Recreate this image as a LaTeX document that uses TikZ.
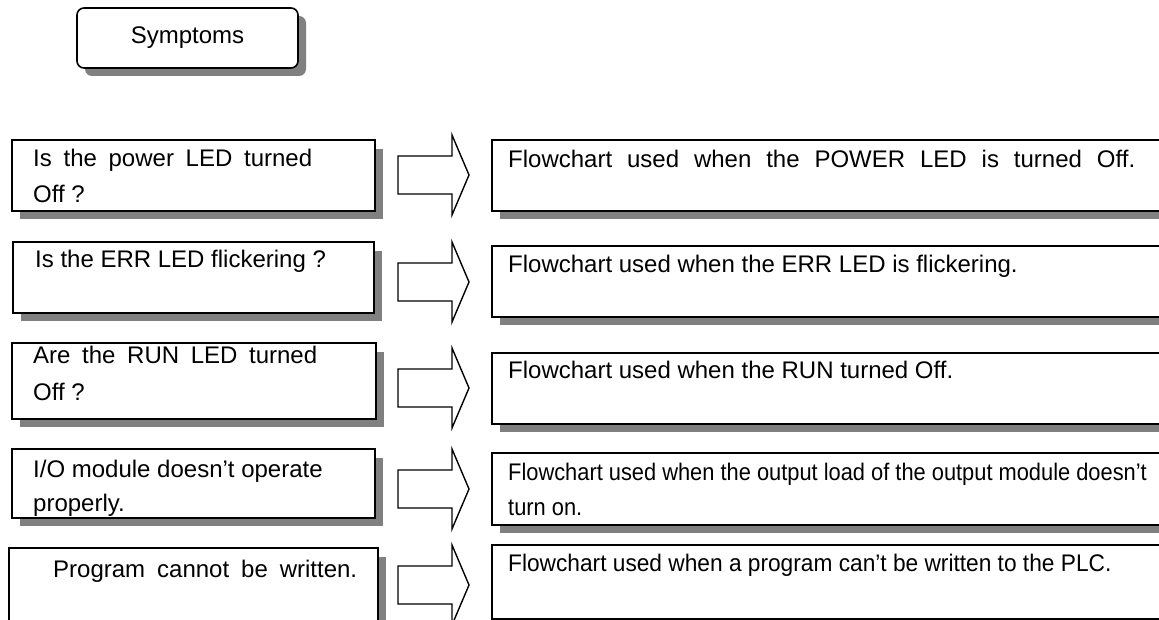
\documentclass[tikz,border=0pt]{standalone}
\usepackage{fontspec}
\setmainfont{Liberation Sans}
\usepackage{graphicx}
\begin{document}
\begin{tikzpicture}[x=1pt,y=-1pt,
  shadowfill/.style={fill=black!50, draw=none},
  boxframe/.style={fill=white, draw=black, line width=1.6pt},
  blockarrow/.style={fill=white, draw=black, line width=1.4pt, line join=miter},
  txt/.style={anchor=base west, inner sep=0pt, font=\fontsize{24}{28}\selectfont}]
\useasboundingbox (0,0) rectangle (1159,620);
\clip (0,0) rectangle (1159,620);

% Symptoms
\fill[shadowfill, rounded corners=7pt] (85,16) rectangle (306,76);
\draw[boxframe, rounded corners=7pt] (77,8) rectangle (298,68);
\node[inner sep=0pt, font=\fontsize{24}{28}\selectfont] (sym) at (187.5,38) {Symptoms};

% left boxes
\foreach \xa/\ya/\xb/\yb in {12/140/375/211, 13/242/374/313, 12/343/376/419, 12/449/375/518, 9/548/378/630}{
  \fill[shadowfill] (\xa+8,\ya+9) rectangle (\xb+8,\yb+8);
  \draw[boxframe] (\xa,\ya) rectangle (\xb,\yb);
}
% right boxes
\foreach \ya/\yb in {140/211, 246/317, 353/424, 453/525, 545/619}{
  \fill[shadowfill] (500,\ya+9) rectangle (1170,\yb+8);
  \draw[boxframe] (492,\ya) rectangle (1175,\yb);
}
% block arrows
\foreach \c in {175, 282, 388, 489, 585}{
  \draw[blockarrow] (398,\c-19) -- (452,\c-19) -- (452,\c-40) -- (469,\c) -- (452,\c+40) -- (452,\c+19) -- (398,\c+19) -- cycle;
}

% left texts
\node[txt] (l1a) at (33,167) {\makebox[279pt][s]{Is the power LED turned}};
\node[txt] (l1b) at (33,203) {Off ?};
\node[txt] (l2) at (35,268) {Is the ERR LED flickering ?};
\node[txt] (l3a) at (33,363) {\makebox[284pt][s]{Are the RUN LED turned}};
\node[txt] (l3b) at (33,400) {Off ?};
\node[txt] (l4a) at (33,477) {I/O module doesn’t operate};
\node[txt] (l4b) at (33,511) {properly.};
\node[txt] (l5) at (53,577) {\makebox[304pt][s]{Program cannot be written.}};

% right texts
\node[txt] (r1) at (508,168) {\makebox[627pt][s]{Flowchart used when the POWER LED is turned Off.}};
\node[txt] (r2) at (508,273) {Flowchart used when the ERR LED is flickering.};
\node[txt] (r3) at (508,378) {Flowchart used when the RUN turned Off.};
\node[txt] (r4a) at (508,480) {\scalebox{0.91}[1]{Flowchart used when the output load of the output module doesn’t}};
\node[txt] (r4b) at (508,515) {\scalebox{0.91}[1]{turn on.}};
\node[txt] (r5) at (508,571) {\scalebox{0.946}[1]{Flowchart used when a program can’t be written to the PLC.}};
\end{tikzpicture}
\end{document}
